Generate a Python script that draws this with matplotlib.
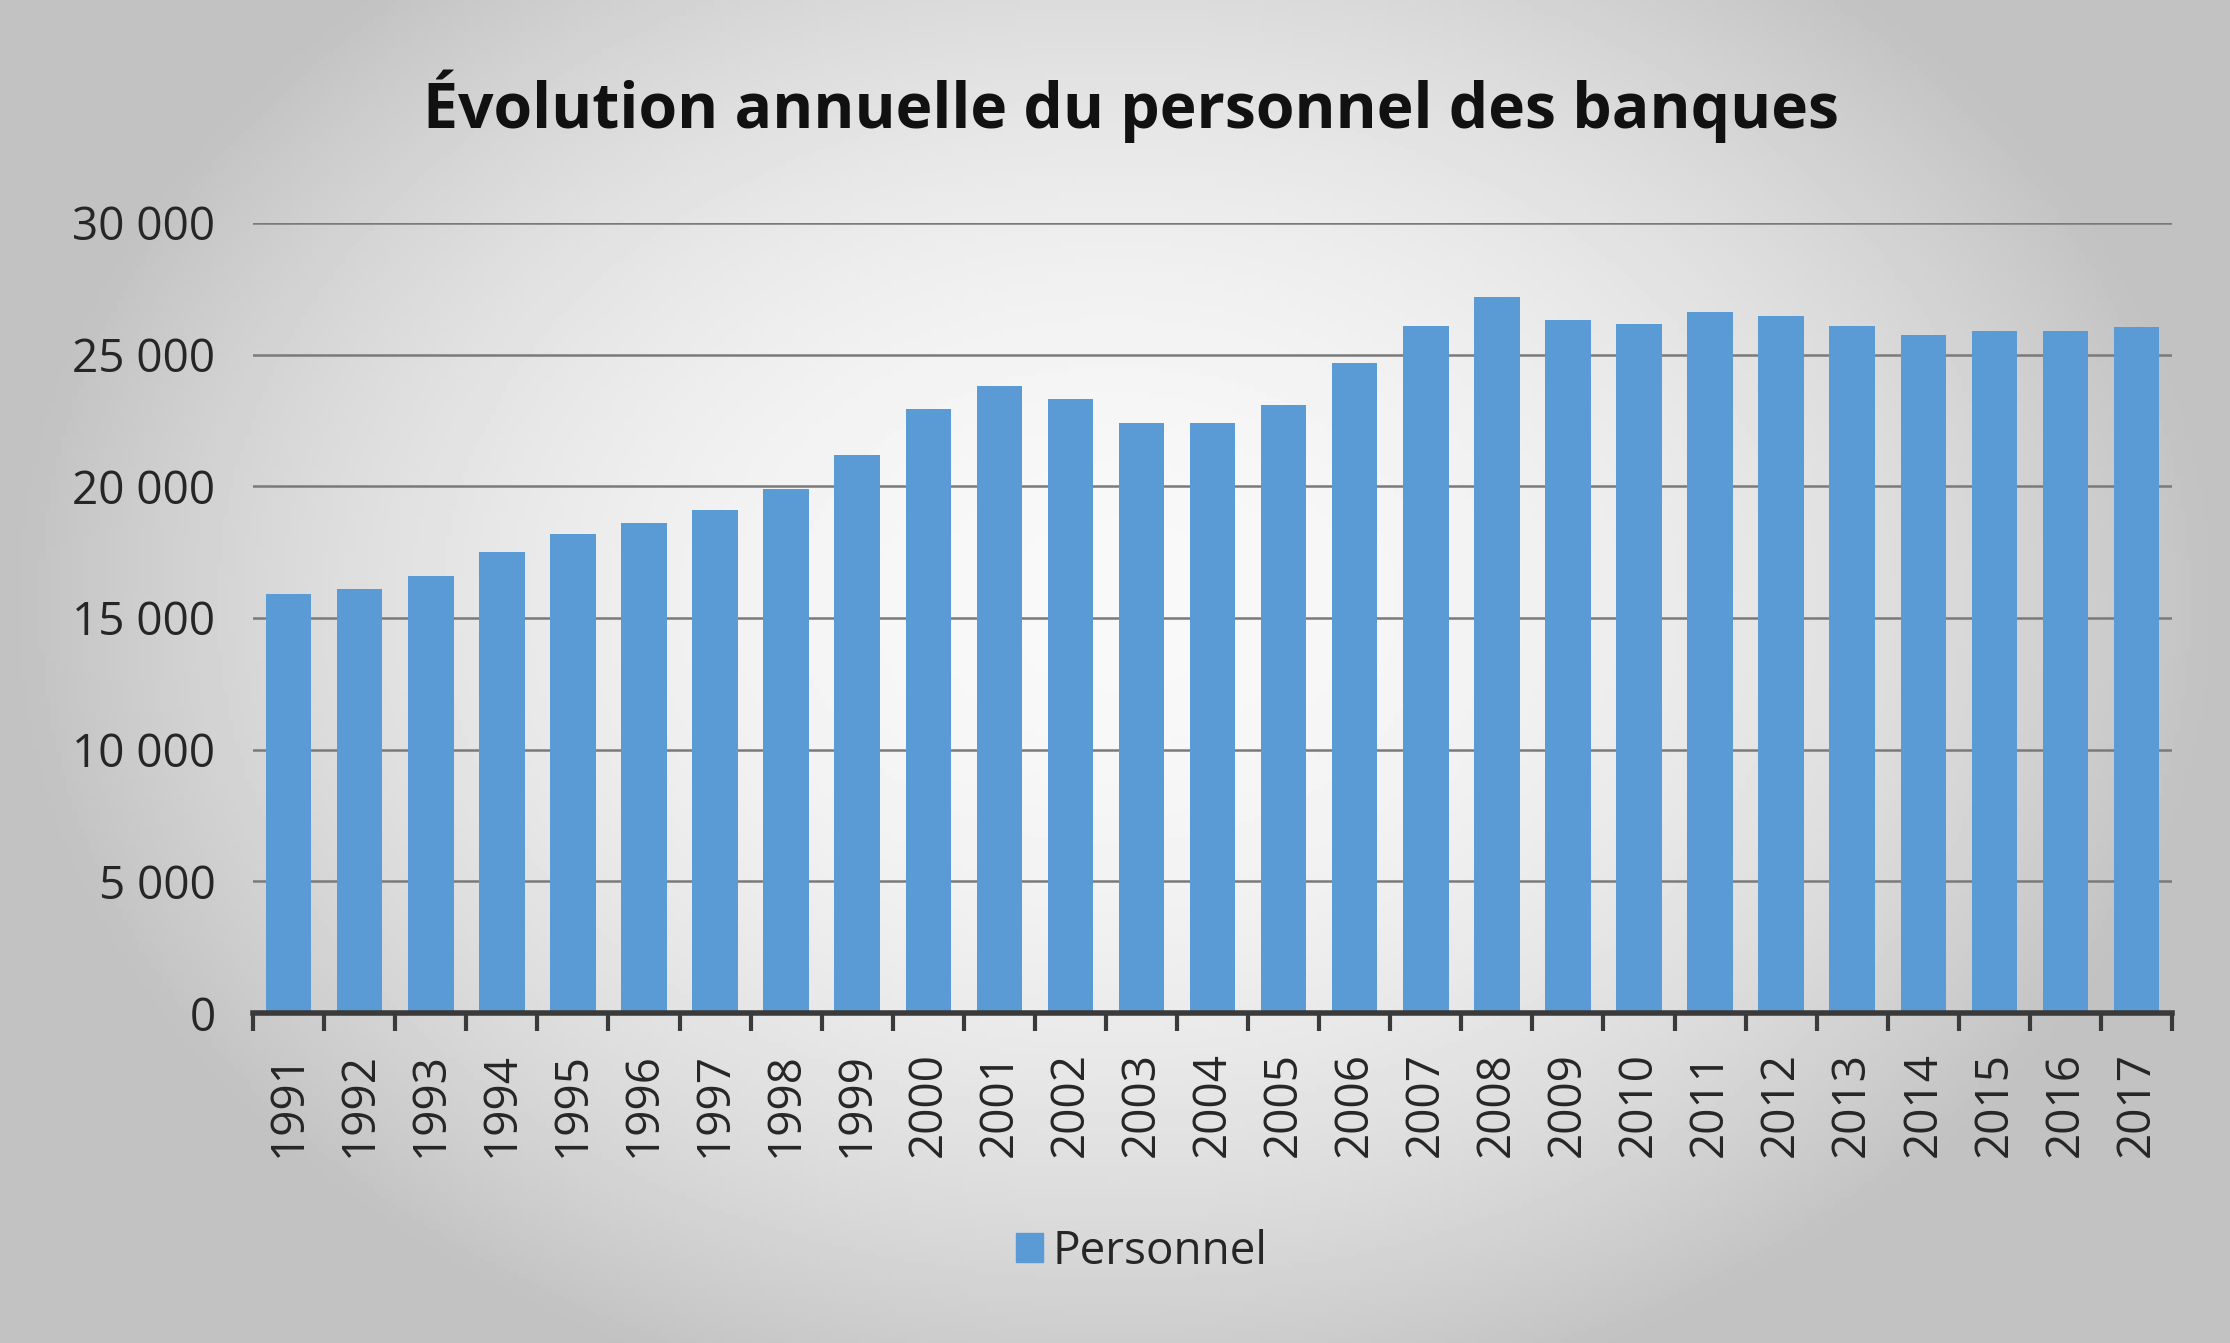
"""
Bar chart: annual staff count of banks (1991-2017), Excel-like styling.
"""
import numpy as np
import matplotlib
matplotlib.use("Agg")
import matplotlib.pyplot as plt
from matplotlib.ticker import FuncFormatter

plt.rcParams['font.family'] = ['Open Sans', 'DejaVu Sans']

# --------- DATA ---------
years = [str(y) for y in range(1991, 2018)]
personnel = [15900, 16100, 16600, 17500, 18200, 18600, 19100, 19900, 21200,
             22950, 23800, 23300, 22400, 22400, 23100, 24700, 26100, 27200,
             26300, 26150, 26600, 26450, 26100, 25750, 25900, 25900, 26050]
title = "Évolution annuelle du personnel des banques"
series_name = "Personnel"
yticks = [0, 5000, 10000, 15000, 20000, 25000, 30000]

# --------- FIGURE + BACKGROUND ---------
fig = plt.figure(figsize=(22.3, 13.43), dpi=100)

bg = fig.add_axes([0, 0, 1, 1], zorder=-10)
xx, yy = np.meshgrid(np.linspace(-1, 1, 400), np.linspace(-1, 1, 250))
r = np.sqrt((xx / 1.0) ** 2 + ((yy + 0.1) / 1.25) ** 2)
shade = np.clip(0.975 - 0.22 * r ** 2, 0.76, 1.0)
bg.imshow(shade, cmap='gray', vmin=0, vmax=1, aspect='auto',
          extent=[0, 1, 0, 1], origin='upper')
bg.set_axis_off()

# --------- BARS ---------
ax = fig.add_axes([0.1135, 0.2457, 0.8605, 0.5883])
ax.patch.set_alpha(0)
x = np.arange(len(years))
ax.bar(x, personnel, width=0.64, color='#5b9bd5', zorder=3)

ax.set_xlim(-0.5, len(years) - 0.5)
ax.set_ylim(0, 30000)
ax.set_yticks(yticks)
ax.yaxis.set_major_formatter(FuncFormatter(lambda v, p: f"{int(v):,}".replace(",", " ")))
ax.grid(axis='y', color='#7a7a7a', linewidth=1.8, zorder=0)

for s in ['top', 'right', 'left']:
    ax.spines[s].set_visible(False)
ax.spines['bottom'].set_color('#3a3a3a')
ax.spines['bottom'].set_linewidth(4)
ax.spines['bottom'].set_zorder(4)

ax.set_xticks(x)
ax.set_xticklabels(years, rotation=90)
ax.set_xticks(np.arange(-0.5, len(years)), minor=True)
ax.tick_params(axis='x', which='major', length=0, pad=28, labelsize=33, labelcolor='#262626')
ax.tick_params(axis='x', which='minor', length=13, width=3, color='#3a3a3a', direction='out')
ax.tick_params(axis='y', length=0, pad=27, labelsize=33, labelcolor='#262626')

fig.text(0.507, 0.921, title, ha='center', va='center', fontsize=45,
         fontweight='bold', color='#111111')

# --------- LEGEND ---------
handles = [plt.Rectangle((0, 0), 1, 1, color='#5b9bd5')]
fig.legend(handles, [series_name], loc='center', bbox_to_anchor=(0.512, 0.068),
           frameon=False, fontsize=33, handlelength=0.6, handleheight=0.6,
           handletextpad=0.2, labelcolor='#262626')

fig.savefig("out.png", dpi=100)
